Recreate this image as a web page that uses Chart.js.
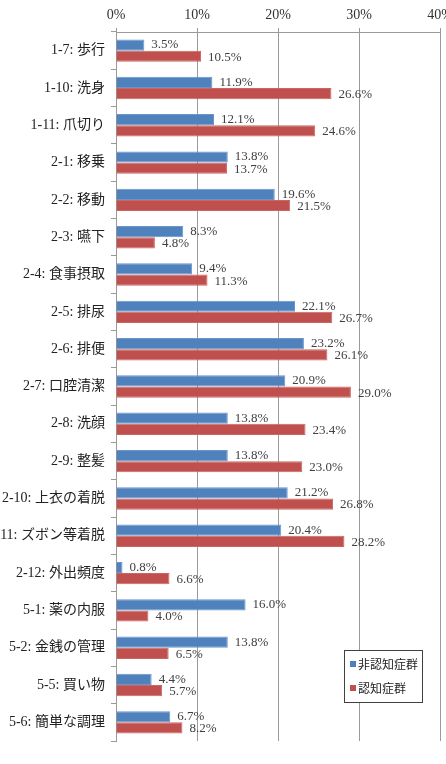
<!DOCTYPE html>
<html>
<head>
<meta charset="utf-8">
<script src="https://cdn.jsdelivr.net/npm/chart.js@4"></script>
<style>
  html, body { margin: 0; padding: 0; background: #fff; }
  #wrap { width: 446px; height: 764px; position: relative; }
</style>
</head>
<body>
<div id="wrap"><canvas id="chart"></canvas></div>
<script>
const categories = ['1-7: 歩行', '1-10: 洗身', '1-11: 爪切り', '2-1: 移乗', '2-2: 移動', '2-3: 嚥下',
  '2-4: 食事摂取', '2-5: 排尿', '2-6: 排便', '2-7: 口腔清潔', '2-8: 洗顔', '2-9: 整髪',
  '2-10: 上衣の着脱', '2-11: ズボン等着脱', '2-12: 外出頻度', '5-1: 薬の内服', '5-2: 金銭の管理',
  '5-5: 買い物', '5-6: 簡単な調理'];
const nonDementia = [3.5, 11.9, 12.1, 13.8, 19.6, 8.3, 9.4, 22.1, 23.2, 20.9, 13.8, 13.8, 21.2, 20.4, 0.8, 16.0, 13.8, 4.4, 6.7];
const dementia = [10.5, 26.6, 24.6, 13.7, 21.5, 4.8, 11.3, 26.7, 26.1, 29.0, 23.4, 23.0, 26.8, 28.2, 6.6, 4.0, 6.5, 5.7, 8.2];
const seriesNames = ['非認知症群', '認知症群'];
const xTicks = [0, 10, 20, 30, 40];

const serif = "'Liberation Serif', 'DejaVu Serif', 'Noto Sans CJK JP', serif";

// 値ラベル
const valueLabels = {
  id: 'valueLabels',
  afterDatasetsDraw(chart) {
    const ctx = chart.ctx;
    ctx.save();
    ctx.font = '13px ' + serif;
    ctx.fillStyle = '#404040';
    ctx.textBaseline = 'middle';
    ctx.textAlign = 'left';
    chart.data.datasets.forEach((ds, i) => {
      chart.getDatasetMeta(i).data.forEach((bar, j) => {
        const dy = i === 0 ? 0 : 1;
        ctx.fillText(ds.data[j].toFixed(1) + '%', bar.x + 7, bar.y + dy);
      });
    });
    ctx.restore();
  }
};

// 凡例 (グラフ内右下)
const boxLegend = {
  id: 'boxLegend',
  afterDraw(chart) {
    const ctx = chart.ctx;
    const x = 344, y = 650, w = 78, h = 52;
    ctx.save();
    ctx.fillStyle = '#fff';
    ctx.fillRect(x, y, w, h);
    ctx.strokeStyle = '#404040';
    ctx.lineWidth = 1;
    ctx.strokeRect(x + 0.5, y + 0.5, w, h);
    ctx.font = "12px 'Noto Sans CJK JP', sans-serif";
    ctx.textBaseline = 'middle';
    chart.data.datasets.forEach((ds, i) => {
      const cy = y + 14 + i * 24;
      ctx.fillStyle = ds.backgroundColor;
      ctx.fillRect(x + 6, cy - 3, 6, 6);
      ctx.fillStyle = '#222';
      ctx.fillText(ds.label, x + 14, cy);
    });
    ctx.restore();
  }
};

new Chart(document.getElementById('chart'), {
  type: 'bar',
  data: {
    labels: categories,
    datasets: [
      { label: seriesNames[0], data: nonDementia, backgroundColor: '#4f81bd', borderColor: '#6b95c9', borderWidth: 1 },
      { label: seriesNames[1], data: dementia, backgroundColor: '#c0504d', borderColor: '#c96562', borderWidth: 1 }
    ]
  },
  options: {
    indexAxis: 'y',
    responsive: true,
    maintainAspectRatio: false,
    animation: false,
    datasets: { bar: { categoryPercentage: 0.6, barPercentage: 1.0 } },
    layout: { padding: { top: 0, right: 6, bottom: 23, left: 0 } },
    plugins: {
      legend: { display: false },
      tooltip: { enabled: false }
    },
    scales: {
      x: {
        position: 'top',
        min: 0,
        max: 40,
        afterBuildTicks(axis) { axis.ticks = xTicks.map(v => ({ value: v })); },
        afterFit(axis) { axis.height = 32; axis.paddingLeft = 0; axis.paddingRight = 0; },
        ticks: {
          callback: v => v + '%',
          font: { family: serif, size: 14 },
          color: '#333',
          padding: 4
        },
        grid: { color: '#9a9a9a', tickLength: 4 },
        border: { color: '#9a9a9a' }
      },
      y: {
        afterFit(axis) { axis.width = 116; axis.paddingTop = 0; axis.paddingBottom = 0; },
        ticks: {
          font: { family: serif, size: 14 },
          color: '#222',
          padding: 6,
          autoSkip: false
        },
        grid: { drawOnChartArea: false, drawTicks: true, tickLength: 5, color: '#9a9a9a' },
        border: { color: '#9a9a9a' }
      }
    }
  },
  plugins: [valueLabels, boxLegend]
});
</script>
</body>
</html>
